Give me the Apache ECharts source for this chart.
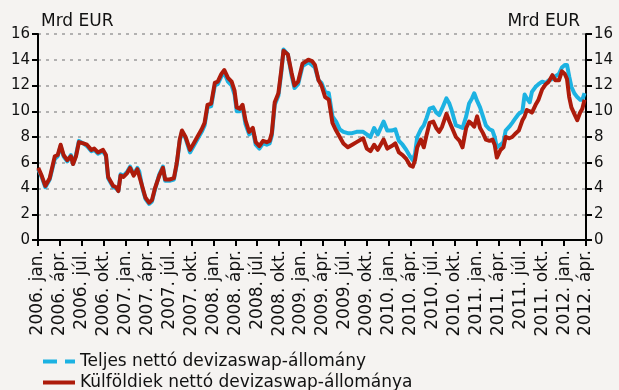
<!DOCTYPE html>
<html>
<head>
<meta charset="utf-8">
<script src="https://cdn.jsdelivr.net/npm/echarts@6/dist/echarts.min.js"></script>
<style>
  html, body { margin: 0; padding: 0; background: #f5f3f1; }
  #chart { width: 619px; height: 390px; }
</style>
</head>
<body>
<div id="chart"></div>
<script>
// Observation dates of the swap stock series
const dates = [
  '2006-01-02','2006-01-16','2006-02-01','2006-02-19','2006-03-10','2006-03-22','2006-04-04','2006-04-16',
  '2006-05-01','2006-05-16','2006-05-25','2006-06-07','2006-06-19','2006-07-07','2006-07-22','2006-08-10',
  '2006-08-22','2006-09-07','2006-09-28','2006-10-10','2006-10-19','2006-11-10','2006-11-22','2006-12-01',
  '2006-12-10','2006-12-22','2007-01-07','2007-01-19','2007-02-04','2007-02-19','2007-02-27','2007-03-10',
  '2007-03-22','2007-04-07','2007-04-19','2007-05-01','2007-05-19','2007-06-04','2007-06-13','2007-07-01',
  '2007-07-19','2007-08-01','2007-08-13','2007-08-22','2007-09-07','2007-09-25','2007-10-13','2007-10-25',
  '2007-11-13','2007-11-25','2007-12-07','2007-12-22','2008-01-07','2008-01-19','2008-02-04','2008-02-16',
  '2008-03-01','2008-03-16','2008-03-28','2008-04-07','2008-04-19','2008-05-01','2008-05-13','2008-05-28',
  '2008-06-13','2008-06-25','2008-07-10','2008-07-25','2008-08-10','2008-08-22','2008-09-01','2008-09-13',
  '2008-09-28','2008-10-10','2008-10-19','2008-11-07','2008-11-22','2008-12-04','2008-12-19','2009-01-07',
  '2009-02-01','2009-02-16','2009-02-28','2009-03-13','2009-03-25','2009-04-10','2009-04-25','2009-05-10',
  '2009-05-25','2009-06-10','2009-06-25','2009-07-13','2009-08-01','2009-08-19','2009-09-16','2009-10-01',
  '2009-10-16','2009-11-01','2009-11-16','2009-12-10','2009-12-25','2010-01-13','2010-01-28','2010-02-13',
  '2010-02-28','2010-03-13','2010-03-28','2010-04-10','2010-04-19','2010-04-28','2010-05-13','2010-05-25',
  '2010-06-07','2010-06-19','2010-07-04','2010-07-16','2010-07-28','2010-08-10','2010-08-28','2010-09-10',
  '2010-09-19','2010-10-07','2010-10-22','2010-11-04','2010-11-19','2010-12-01','2010-12-13','2010-12-22',
  '2011-01-04','2011-01-16','2011-01-28','2011-02-10','2011-02-25','2011-03-07','2011-03-16','2011-03-25',
  '2011-04-10','2011-04-22','2011-05-01','2011-05-16','2011-05-28','2011-06-13','2011-06-25','2011-07-10',
  '2011-07-19','2011-07-28','2011-08-10','2011-08-19','2011-09-04','2011-09-16','2011-10-01','2011-10-16',
  '2011-10-28','2011-11-13','2011-11-25','2011-12-10','2011-12-22','2012-01-04','2012-01-13','2012-01-22',
  '2012-02-01','2012-02-13','2012-02-25','2012-03-07','2012-03-16','2012-03-25'
];

// Teljes nettó devizaswap-állomány (Mrd EUR)
const teljes = [
  5.5,4.9,4.1,4.7,6.3,6.5,7.3,6.5, 6.1,6.6,5.9,6.6,7.7,7.5,7.3,6.9,
  7.0,6.7,6.9,6.5,4.8,4.1,4.0,3.8, 5.1,5.0,5.3,5.7,5.1,5.6,5.3,4.0,
  3.2,2.8,3.0,3.9,5.1,5.7,4.6,4.6, 4.7,5.9,7.7,8.4,7.9,6.8,7.4,7.8,
  8.4,8.9,10.3,10.4,12.0,12.1,12.7,13.0, 12.3,12.0,11.3,10.0,10.0,10.3,9.0,8.2,
  8.5,7.4,7.1,7.5,7.4,7.5,8.1,10.5, 11.2,13.0,14.8,14.4,12.8,11.8,12.1,13.5,
  13.8,13.6,13.4,12.4,12.2,11.5,11.4,9.6, 9.2,8.6,8.4,8.3,8.3,8.4,8.4,8.2,
  8.0,8.7,8.2,9.2,8.5,8.5,8.6,7.7, 7.4,7.0,6.5,6.2,6.7,8.0,8.6,8.9,
  9.5,10.2,10.3,9.9,9.7,10.2,11.0,10.6, 10.1,8.9,8.8,8.7,9.6,10.6,11.0,11.4,
  10.8,10.3,9.6,8.9,8.6,8.5,8.0,7.2, 7.4,7.6,8.5,8.8,9.1,9.5,9.8,10.0,
  11.3,11.0,10.7,11.5,11.9,12.1,12.3,12.2, 12.4,12.5,12.7,12.9,13.4,13.6,13.6,12.7,
  11.9,11.4,11.1,10.9,10.9,11.4
];

// Külföldiek nettó devizaswap-állománya (Mrd EUR)
const kulfoldi = [
  5.6,5.0,4.2,4.8,6.5,6.6,7.4,6.6, 6.2,6.5,5.9,6.5,7.6,7.5,7.4,7.0,
  7.1,6.8,7.0,6.6,4.9,4.2,4.1,3.8, 5.0,4.9,5.2,5.6,5.0,5.5,5.4,4.1,
  3.3,2.9,3.1,4.0,5.0,5.6,4.7,4.7, 4.8,6.0,7.8,8.5,8.0,7.0,7.6,8.0,
  8.6,9.1,10.5,10.6,12.2,12.3,12.9,13.2, 12.6,12.3,11.6,10.3,10.2,10.5,9.3,8.4,
  8.7,7.6,7.3,7.7,7.6,7.7,8.3,10.7, 11.4,13.2,14.7,14.4,13.0,12.0,12.3,13.7,
  14.0,13.9,13.6,12.4,12.0,11.1,10.9,9.1, 8.5,8.0,7.5,7.2,7.4,7.6,7.9,7.1,
  6.9,7.4,7.0,7.8,7.1,7.3,7.5,6.8, 6.6,6.3,5.8,5.7,6.2,7.2,7.8,7.2,
  8.2,9.1,9.2,8.7,8.4,8.8,9.8,9.2, 8.8,8.0,7.7,7.2,8.7,9.2,9.0,8.8,
  9.6,8.7,8.3,7.8,7.7,7.8,7.4,6.4, 7.0,7.2,8.0,7.9,8.0,8.3,8.5,9.3,
  9.6,10.1,10.0,9.9,10.5,10.9,11.7,12.1, 12.3,12.8,12.4,12.4,13.1,12.9,12.5,11.1,
  10.3,9.8,9.3,9.9,10.2,10.9
];

// Quarter names used on the time axis
const quarterNames = ['jan.', 'ápr.', 'júl.', 'okt.'];
const startYear = 2006;

const NAME_TOTAL = 'Teljes nettó devizaswap-állomány';
const NAME_FOREIGN = 'Külföldiek nettó devizaswap-állománya';

// Calendar date -> months elapsed since the start of 2006
function toMonths(s) {
  const [y, m, d] = s.split('-').map(Number);
  return (y - startYear) * 12 + (m - 1) + (d - 1) / 30;
}

const FONT = 'DejaVu Sans';
const TEXT = '#111';
const BLUE = '#1cb2e2';
const RED = '#ad1b0b';

const chart = echarts.init(document.getElementById('chart'), null, { renderer: 'canvas' });

const yAxisCommon = {
  type: 'value', min: 0, max: 16, interval: 2,
  axisLine: { show: true, lineStyle: { color: '#000', width: 2 } },
  axisTick: { show: true, length: 6, lineStyle: { color: '#000', width: 2 } },
  axisLabel: { color: TEXT, fontSize: 15, fontFamily: FONT, margin: 8 }
};

const legendCommon = {
  orient: 'vertical', left: 38,
  itemWidth: 32, itemHeight: 4,
  textStyle: { fontSize: 17, fontFamily: FONT, color: TEXT }
};

chart.setOption({
  animation: false,
  backgroundColor: '#f5f3f1',
  grid: { left: 38, right: 33, top: 34, bottom: 150, containLabel: false },
  graphic: [
    { type: 'text', left: 41, top: 13, style: { text: 'Mrd EUR', fontSize: 17, fontFamily: FONT, fill: TEXT } },
    { type: 'text', right: 39, top: 13, style: { text: 'Mrd EUR', fontSize: 17, fontFamily: FONT, fill: TEXT } }
  ],
  legend: [
    Object.assign({}, legendCommon, {
      top: 348,
      data: [{ name: NAME_TOTAL, icon: 'path://M0,0H14V4H0Z M22,0H32V4H22Z' }]
    }),
    Object.assign({}, legendCommon, {
      top: 369,
      data: [{ name: NAME_FOREIGN, icon: 'rect' }]
    })
  ],
  xAxis: {
    type: 'value', min: 0, max: 75, interval: 3,
    axisLine: { onZero: false, lineStyle: { color: '#000', width: 2 } },
    axisTick: { show: true, length: 6, lineStyle: { color: '#000', width: 2 } },
    splitLine: { show: false },
    axisLabel: {
      rotate: 90, fontSize: 17, fontFamily: FONT, color: TEXT, margin: 10,
      formatter: v => (startYear + Math.floor(v / 12)) + '. ' + quarterNames[Math.round(v % 12) / 3]
    }
  },
  yAxis: [
    Object.assign({}, yAxisCommon, {
      position: 'left',
      splitLine: { show: true, lineStyle: { color: '#9c9c9c', width: 1.5, type: [3, 5] } }
    }),
    Object.assign({}, yAxisCommon, { position: 'right', splitLine: { show: false } })
  ],
  series: [
    {
      name: NAME_TOTAL, type: 'line', showSymbol: false,
      color: BLUE, lineStyle: { width: 4, color: BLUE, join: 'round' },
      data: dates.map((d, i) => [toMonths(d), teljes[i]])
    },
    {
      name: NAME_FOREIGN, type: 'line', showSymbol: false,
      color: RED, lineStyle: { width: 4, color: RED, join: 'round' },
      data: dates.map((d, i) => [toMonths(d), kulfoldi[i]])
    }
  ]
});
</script>
</body>
</html>
